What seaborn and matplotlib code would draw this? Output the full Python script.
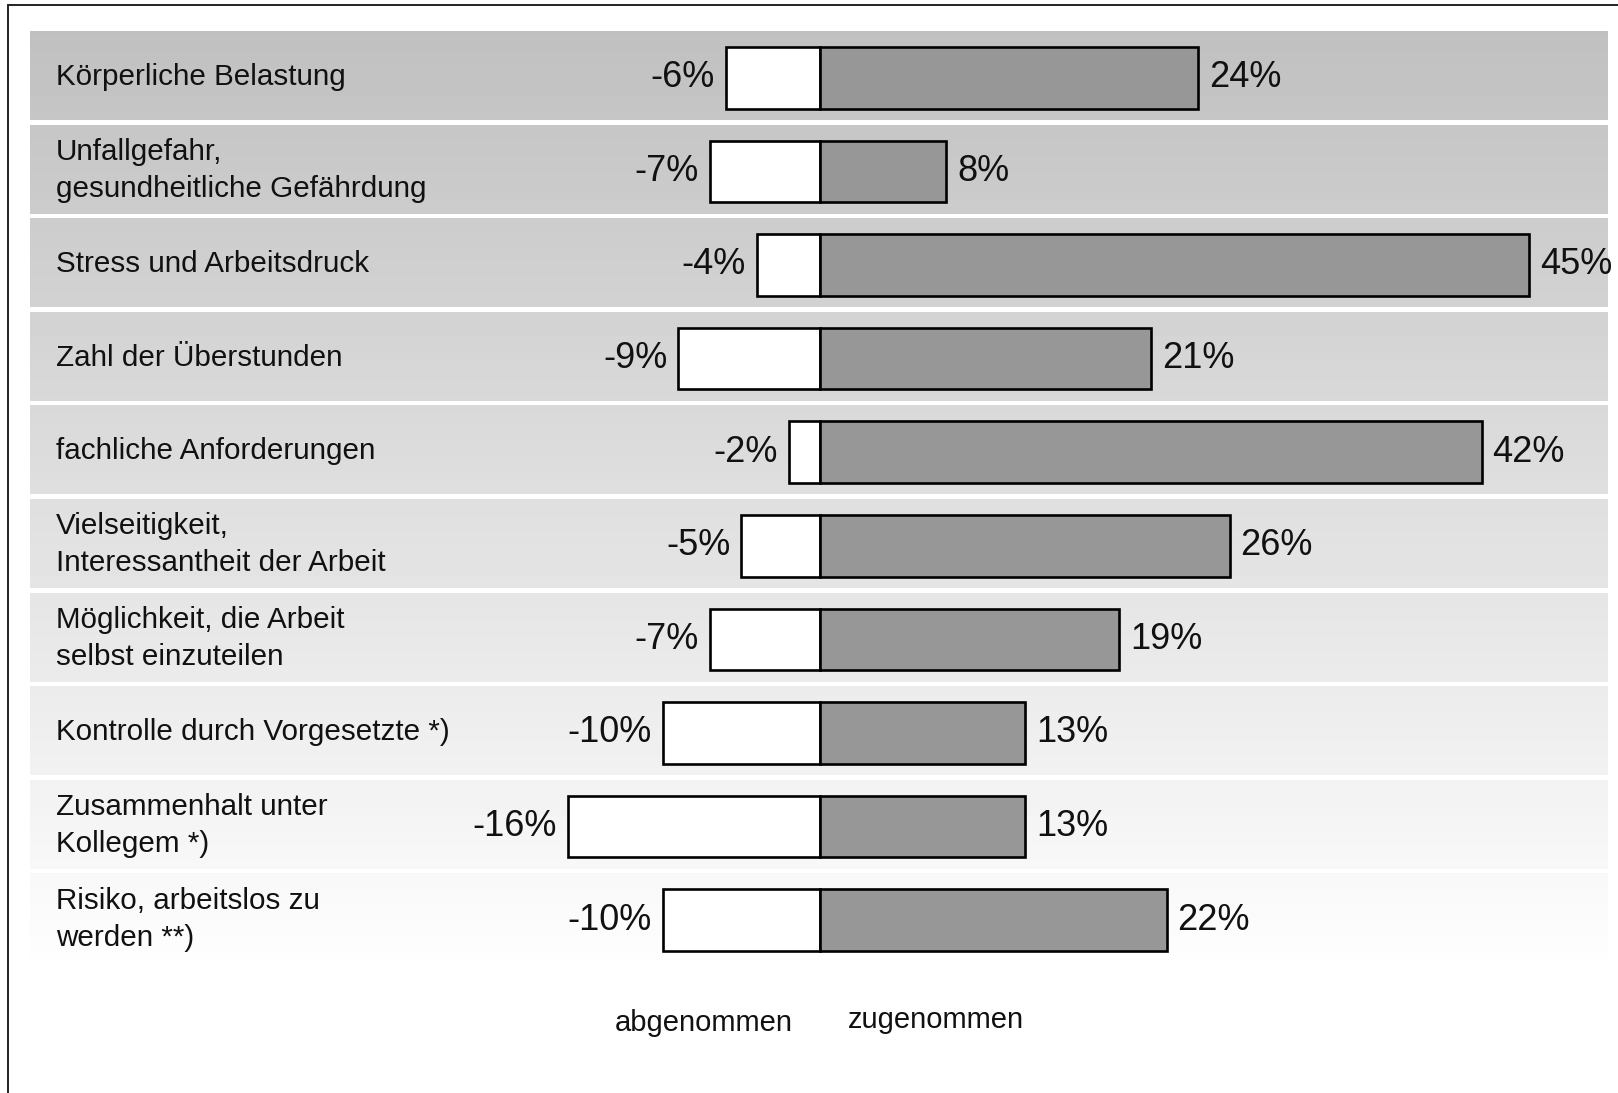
import numpy as np
import pandas as pd
import matplotlib
matplotlib.use("Agg")
import matplotlib.pyplot as plt
import matplotlib.transforms as mtransforms
from matplotlib.lines import Line2D
import seaborn as sns

categories = [
    "Körperliche Belastung",
    "Unfallgefahr,\ngesundheitliche Gefährdung",
    "Stress und Arbeitsdruck",
    "Zahl der Überstunden",
    "fachliche Anforderungen",
    "Vielseitigkeit,\nInteressantheit der Arbeit",
    "Möglichkeit, die Arbeit\nselbst einzuteilen",
    "Kontrolle durch Vorgesetzte *)",
    "Zusammenhalt unter\nKollegem *)",
    "Risiko, arbeitslos zu\nwerden **)",
]
abgenommen = [-6, -7, -4, -9, -2, -5, -7, -10, -16, -10]
zugenommen = [24, 8, 45, 21, 42, 26, 19, 13, 13, 22]
legend_labels = ["abgenommen", "zugenommen"]

df = pd.DataFrame({"cat": categories, "neg": abgenommen, "pos": zugenommen})

sns.set_style("white")
plt.rcParams["font.family"] = ["Liberation Sans", "DejaVu Sans"]

W, H = 1618, 1093
fig = plt.figure(figsize=(W / 100, H / 100), dpi=100)
fig.patch.set_facecolor("white")

# axes covering the banded area
ax_left, ax_right, ax_top, ax_bot = 30, 1608, 31, 967
ax = fig.add_axes([ax_left / W, 1 - ax_bot / H, (ax_right - ax_left) / W, (ax_bot - ax_top) / H])

k = 15.75  # px per percent
zero_px = 820
xlim = (-(zero_px - ax_left) / k, (ax_right - zero_px) / k)
n = len(categories)
ylim = (n - 0.5, -0.5)

# gradient background
grad = np.linspace(192, 254, 256).reshape(-1, 1)
ax.imshow(grad, cmap="gray", vmin=0, vmax=255, aspect="auto",
          extent=(xlim[0], xlim[1], ylim[0], ylim[1]), origin="upper", zorder=0,
          interpolation="bilinear")
gap = 4.6 / 93.6
for i in range(n):
    ax.axhspan(i + 0.5 - gap, i + 0.5, color="white", lw=0, zorder=1)

sns.barplot(data=df, x="neg", y="cat", orient="h", color="white", edgecolor="black",
            linewidth=1.9, width=0.66, saturation=1, ax=ax, zorder=3)
sns.barplot(data=df, x="pos", y="cat", orient="h", color="#979797", edgecolor="black",
            linewidth=1.9, width=0.66, saturation=1, ax=ax, zorder=3)

ax.set_xlim(*xlim)
ax.set_ylim(*ylim)
ax.set_xlabel("")
ax.set_ylabel("")
ax.set_xticks([])
ax.set_yticks([])
for s in ax.spines.values():
    s.set_visible(False)

# category labels
trans = mtransforms.blended_transform_factory(fig.transFigure, ax.transData)
for i, c in enumerate(categories):
    ax.text(56 / W, i - 0.01, c, transform=trans, ha="left", va="center",
            fontsize=21.3, color="#111111", linespacing=1.42, zorder=5)

# value labels
for i, (a, b) in enumerate(zip(abgenommen, zugenommen)):
    ax.annotate(f"{a}%", xy=(a, i), xytext=(-8, 0), textcoords="offset points",
                ha="right", va="center", fontsize=26, color="#111111", zorder=5)
    ax.annotate(f"{b}%", xy=(b, i), xytext=(8, 0), textcoords="offset points",
                ha="left", va="center", fontsize=26, color="#111111", zorder=5)

# bottom labels
fig.text(704 / W, 1 - 1023 / H, legend_labels[0], ha="center", va="center", fontsize=21, color="#111111")
fig.text(936 / W, 1 - 1020 / H, legend_labels[1], ha="center", va="center", fontsize=21, color="#111111")

# frame (left and top edges visible)
fig.add_artist(Line2D([8 / W, 8 / W], [0, 1 - 5 / H], transform=fig.transFigure, color="#222222", lw=1.4))
fig.add_artist(Line2D([8 / W, 1], [1 - 5 / H, 1 - 5 / H], transform=fig.transFigure, color="#222222", lw=1.4))

fig.savefig("out.png", dpi=100, facecolor="white")
